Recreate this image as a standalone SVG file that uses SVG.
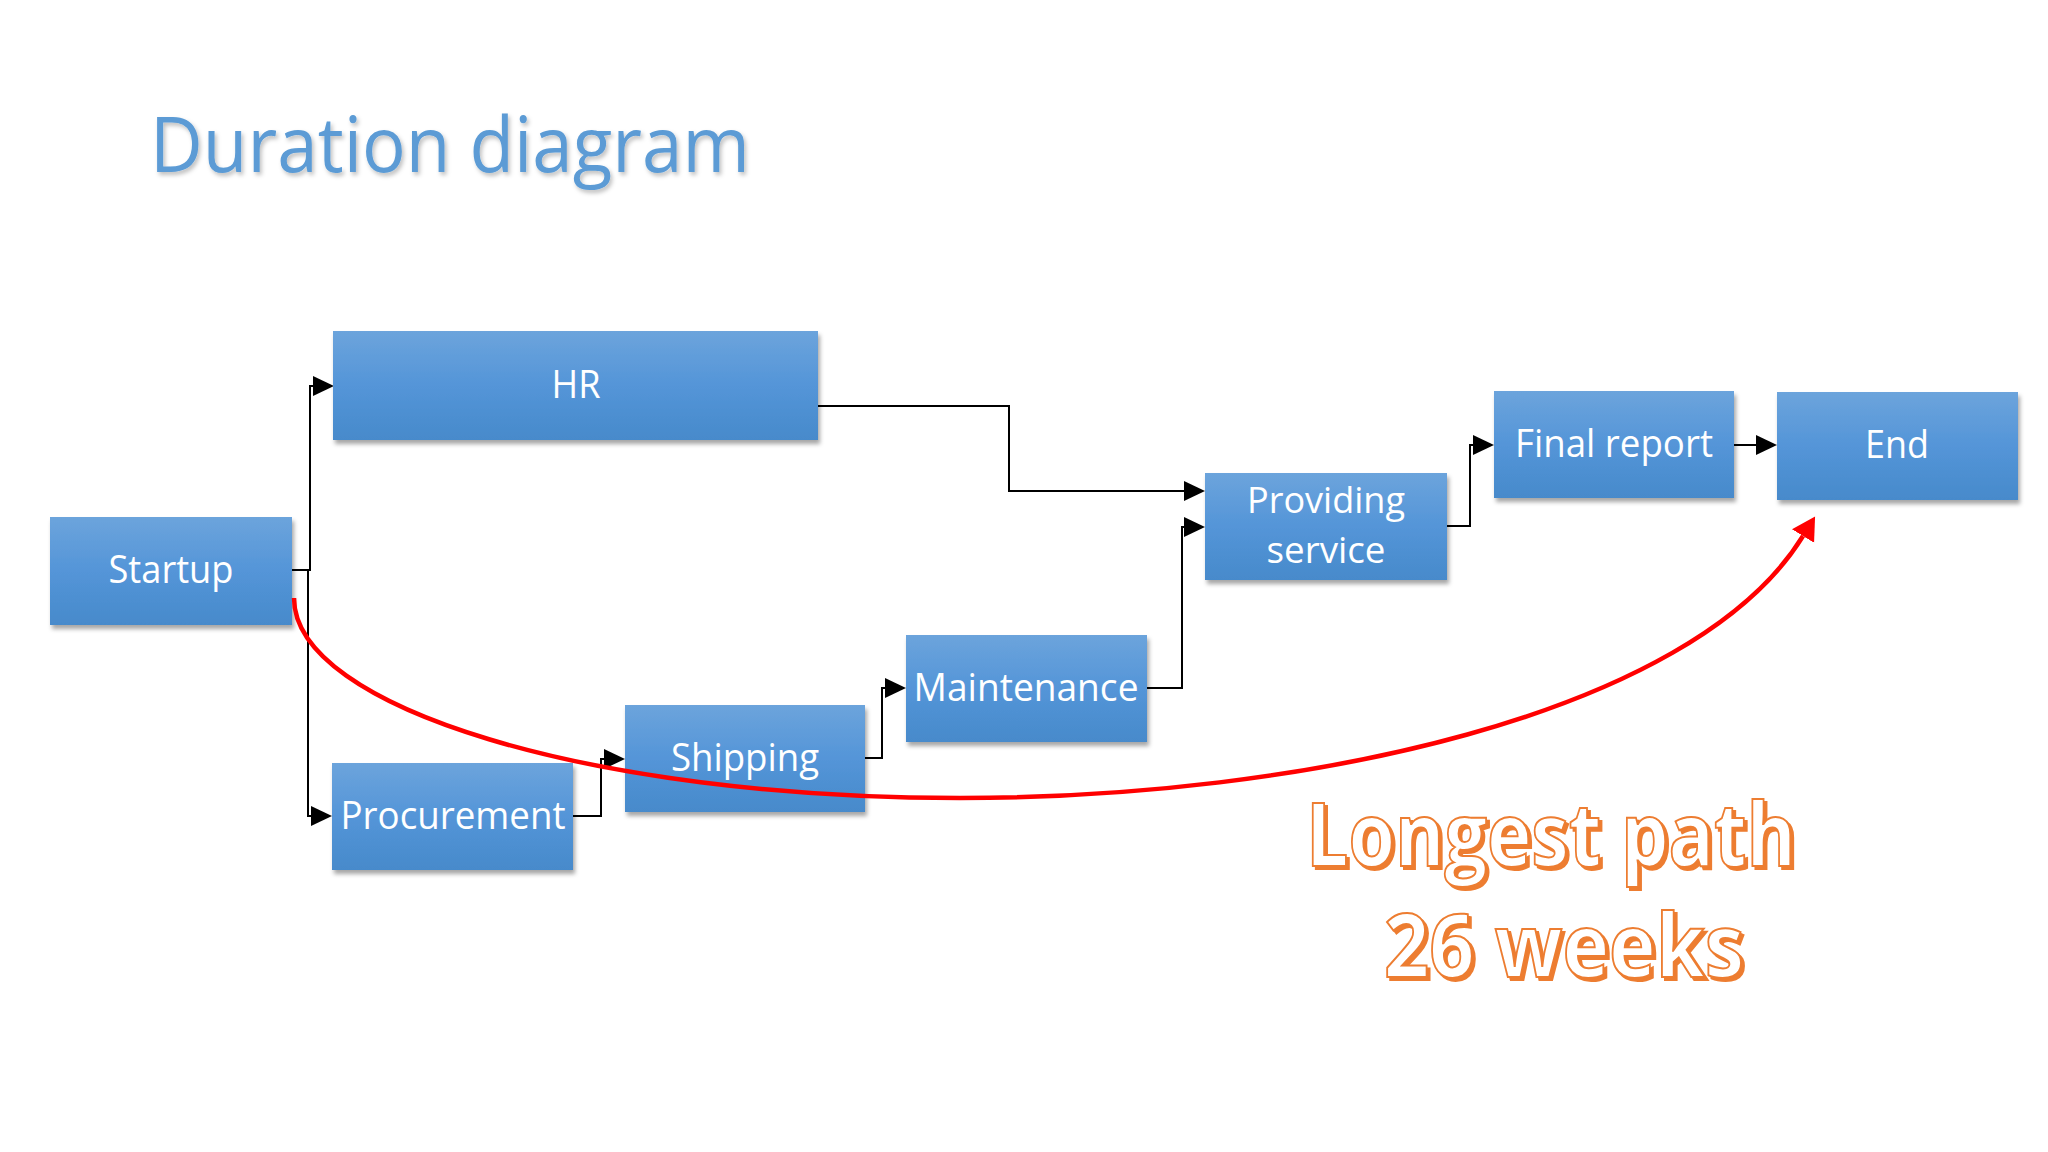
<svg xmlns="http://www.w3.org/2000/svg" width="2048" height="1152" viewBox="0 0 2048 1152">
<defs>
<style>
.box{fill:url(#boxGrad);filter:url(#boxShadow);}
.lbl{font-family:"Open Sans","Noto Sans","Liberation Sans",sans-serif;font-size:38px;fill:#ffffff;text-anchor:middle;}
.lbl2{font-size:36px;}
.conn{fill:none;stroke:#000000;stroke-width:2;marker-end:url(#arrowBlack);}
.title{font-family:"Open Sans","Noto Sans","Liberation Sans",sans-serif;font-size:76px;fill:#5B9BD5;filter:url(#titleShadow);}
.big{font-family:"Open Sans","Noto Sans","Liberation Sans",sans-serif;font-size:87px;font-weight:bold;text-anchor:middle;}
.bigShadow{fill:#ED7D31;stroke:#ED7D31;stroke-width:2;}
.bigFace{fill:#ffffff;stroke:#ED7D31;stroke-width:2;}
</style>
<linearGradient id="boxGrad" x1="0" y1="0" x2="0" y2="1">
<stop offset="0" stop-color="#6CA4DC"/>
<stop offset="0.5" stop-color="#5495D8"/>
<stop offset="1" stop-color="#478ACB"/>
</linearGradient>
<filter id="boxShadow" x="-10%" y="-10%" width="125%" height="135%">
<feDropShadow dx="2" dy="4" stdDeviation="2" flood-color="#000000" flood-opacity="0.35"/>
</filter>
<filter id="titleShadow" x="-5%" y="-20%" width="110%" height="150%">
<feDropShadow dx="2" dy="3" stdDeviation="2" flood-color="#000000" flood-opacity="0.25"/>
</filter>
<marker id="arrowBlack" markerUnits="userSpaceOnUse" markerWidth="22" markerHeight="22" refX="0" refY="10" orient="auto">
<path d="M0,0 L21,10 L0,20 z" fill="#000000"/>
</marker>
<marker id="arrowRed" markerUnits="userSpaceOnUse" markerWidth="26" markerHeight="28" refX="0" refY="13" orient="auto">
<path d="M0,0 L23,13 L0,26 z" fill="#FF0000"/>
</marker>
</defs>
<rect x="0" y="0" width="2048" height="1152" fill="#FFFFFF"/>
<text class="title" x="150" y="172" textLength="600" lengthAdjust="spacingAndGlyphs">Duration diagram</text>

<g id="connectors">
<path class="conn" d="M292,570 H310 V386 H313"/>
<path class="conn" d="M292,570 H308 V816 H311"/>
<path class="conn" d="M818,406 H1009 V491 H1184"/>
<path class="conn" d="M573,816 H601 V759 H604"/>
<path class="conn" d="M865,758 H882 V688 H885"/>
<path class="conn" d="M1147,688 H1182 V527 H1184"/>
<path class="conn" d="M1447,526 H1470 V445 H1473"/>
<path class="conn" d="M1734,445 H1756"/>
</g>

<g id="node-startup">
<rect class="box" x="50" y="517" width="242" height="108"/>
<text class="lbl" x="171" y="583" textLength="125" lengthAdjust="spacingAndGlyphs">Startup</text>
</g>
<g id="node-hr">
<rect class="box" x="333" y="331" width="485" height="109"/>
<text class="lbl" x="576" y="398" textLength="49" lengthAdjust="spacingAndGlyphs">HR</text>
</g>
<g id="node-procurement">
<rect class="box" x="332" y="763" width="241" height="107"/>
<text class="lbl" x="453" y="829" textLength="225" lengthAdjust="spacingAndGlyphs">Procurement</text>
</g>
<g id="node-shipping">
<rect class="box" x="625" y="705" width="240" height="107"/>
<text class="lbl" x="745" y="771" textLength="148" lengthAdjust="spacingAndGlyphs">Shipping</text>
</g>
<g id="node-maintenance">
<rect class="box" x="906" y="635" width="241" height="107"/>
<text class="lbl" x="1026" y="701" textLength="225" lengthAdjust="spacingAndGlyphs">Maintenance</text>
</g>
<g id="node-providing">
<rect class="box" x="1205" y="473" width="242" height="107"/>
<text class="lbl lbl2" x="1326" y="513" textLength="158" lengthAdjust="spacingAndGlyphs">Providing</text>
<text class="lbl lbl2" x="1326" y="563" textLength="119" lengthAdjust="spacingAndGlyphs">service</text>
</g>
<g id="node-final">
<rect class="box" x="1494" y="391" width="240" height="107"/>
<text class="lbl" x="1614" y="457" textLength="198" lengthAdjust="spacingAndGlyphs">Final report</text>
</g>
<g id="node-end">
<rect class="box" x="1777" y="392" width="241" height="108"/>
<text class="lbl" x="1897" y="458" textLength="64" lengthAdjust="spacingAndGlyphs">End</text>
</g>

<g id="longest-path">
<path d="M294,598 C294,708 592,798 960,798 C1300,798 1692,716 1803,536" fill="none" stroke="#FF0000" stroke-width="4.5" marker-end="url(#arrowRed)"/>
</g>

<g id="label-longest">
<text class="big bigShadow" x="1554" y="869" textLength="490" lengthAdjust="spacingAndGlyphs">Longest path</text>
<text class="big bigFace" x="1551" y="866" textLength="490" lengthAdjust="spacingAndGlyphs">Longest path</text>
<text class="big bigShadow" x="1567" y="980" textLength="360" lengthAdjust="spacingAndGlyphs">26 weeks</text>
<text class="big bigFace" x="1564" y="977" textLength="360" lengthAdjust="spacingAndGlyphs">26 weeks</text>
</g>
</svg>
